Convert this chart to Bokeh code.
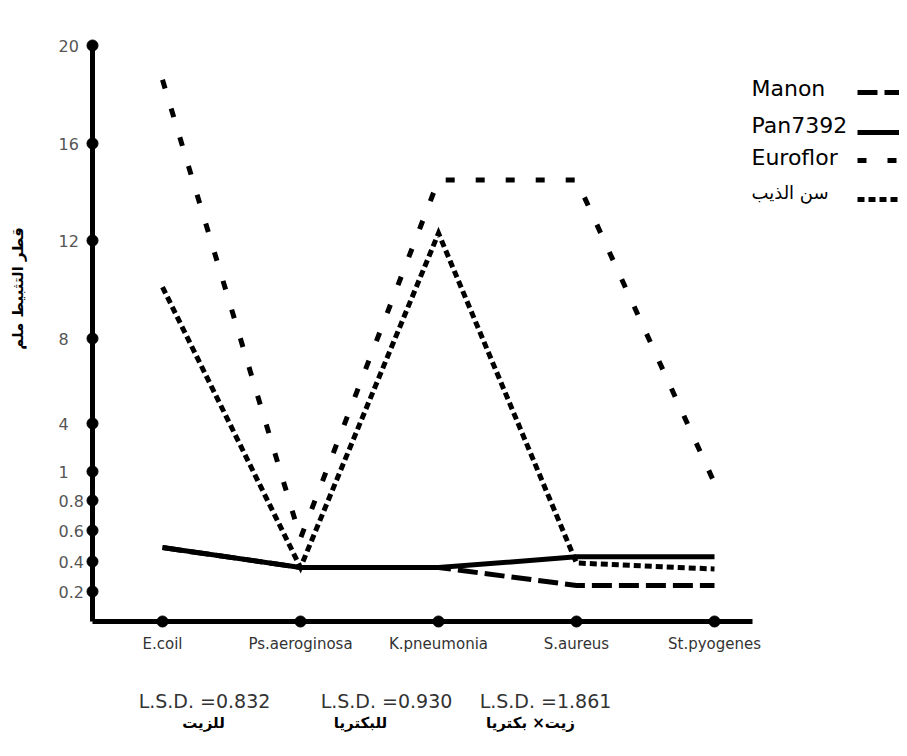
import numpy as np
from bokeh.plotting import figure
from bokeh.core.properties import value
from bokeh.embed import file_html
from bokeh.resources import INLINE

# ---------------- data ----------------
categories = ["E.coil", "Ps.aeroginosa", "K.pneumonia", "S.aureus", "St.pyogenes"]
manon = [0.49, 0.36, 0.36, 0.24, 0.24]
pan7392 = [0.49, 0.36, 0.36, 0.43, 0.43]
euroflor = [18.6, 0.55, 14.5, 14.5, 0.92]
sen_althib = [10.1, 0.36, 12.3, 0.39, 0.35]

series_names = ["Manon", "Pan7392", "Euroflor", "سن الذيب"]
series_values = [manon, pan7392, euroflor, sen_althib]

y_tick_values = [0.2, 0.4, 0.6, 0.8, 1, 4, 8, 12, 16, 20]
y_tick_labels = ["0.2", "0.4", "0.6", "0.8", "1", "4", "8", "12", "16", "20"]
# the original axis is drawn with uneven spacing between ticks
scale_values = [0, 0.2, 0.4, 0.6, 0.8, 1, 4, 8, 12, 16, 20]
scale_positions = [0, 30, 60, 91, 121, 150, 198, 283, 381, 478, 576]

y_title = "قطر التثبيط ملم"
lsd_texts = ["L.S.D. =0.832", "L.S.D. =0.930", "L.S.D. =1.861"]
lsd_labels = ["للزيت", "للبكتريا", "زيت× بكتريا"]

# ---------------- styles ----------------
styles = [
    dict(line_dash="20 7", line_width=5),
    dict(line_dash="solid", line_width=5),
    dict(line_dash="9 21", line_width=5),
    dict(line_dash="7 4", line_width=5),
]
LATIN = value("DejaVu Sans")
ARABIC = value("DejaVu Sans")


def ymap(v):
    return np.interp(np.asarray(v, dtype=float), scale_values, scale_positions)


# layout helpers (picture pixels -> data space)
W, H = 899, 748
X0, DX, Y0 = 162.0, 138.0, 621.0


def xpx(px):
    return (px - X0) / DX


def ypx(py):
    return Y0 - py


p = figure(width=W, height=H, output_backend="svg", toolbar_location=None,
           x_range=(xpx(0), xpx(W)), y_range=(ypx(H), ypx(0)),
           min_border=0, outline_line_color=None)
p.xaxis.visible = False
p.yaxis.visible = False
p.xgrid.visible = False
p.ygrid.visible = False
p.background_fill_color = "white"
p.border_fill_color = "white"

xs = list(range(len(categories)))

# axes
x_axis_left = xpx(92)
x_axis_right = xpx(752)
p.line([x_axis_left, x_axis_left], [0, float(ymap(max(y_tick_values)))],
       line_color="black", line_width=5)
p.line([x_axis_left, x_axis_right], [0, 0], line_color="black", line_width=5)
p.scatter([x_axis_left] * len(y_tick_values), list(ymap(y_tick_values)),
          size=11, color="black")
p.scatter(xs, [0] * len(xs), size=11, color="black")

# y tick labels
p.text([xpx(58)] * len(y_tick_values), list(ymap(y_tick_values)), text=y_tick_labels,
       text_font=LATIN, text_font_size="16px", text_color="#555555",
       text_align="left", text_baseline="middle")

# category labels
p.text(xs, [ypx(643)] * len(xs), text=categories, text_font=LATIN,
       text_font_size="15px", text_color="#333333",
       text_align="center", text_baseline="middle")

# y title
p.text([xpx(17)], [ypx(288)], text=[y_title], angle=np.pi / 2,
       text_font=ARABIC, text_font_size="15px", text_font_style="bold",
       text_color="black", text_align="center", text_baseline="middle")

# series lines (draw solid first, then dashed ones)
order = [1, 0, 3, 2]
for i in order:
    p.line(xs, list(ymap(series_values[i])), line_color="black",
           line_join="miter", **styles[i])

# legend (text on the left, sample on the right)
legend_text_y = [88, 125, 157, 192]
legend_line_y = [92, 132, 160, 199]
for i, name in enumerate(series_names):
    p.text([xpx(751)], [ypx(legend_text_y[i])], text=[name],
           text_font=ARABIC if i == 3 else LATIN,
           text_font_size="18px" if i == 3 else "22px",
           text_color="black", text_align="left", text_baseline="middle")
    p.line([xpx(857), xpx(907)], [ypx(legend_line_y[i])] * 2,
           line_color="black", **styles[i])

# L.S.D. annotations
lsd_x = [204, 386, 545]
arabic_x = [203, 360, 530]
p.text([xpx(v) for v in lsd_x], [ypx(700)] * 3, text=lsd_texts, text_font=LATIN,
       text_font_size="19px", text_color="#333333",
       text_align="center", text_baseline="middle")
p.text([xpx(v) for v in arabic_x], [ypx(722)] * 3, text=lsd_labels, text_font=ARABIC,
       text_font_size="15px", text_font_style="bold", text_color="black",
       text_align="center", text_baseline="middle")

open("out.html", "w").write(file_html(p, INLINE))
